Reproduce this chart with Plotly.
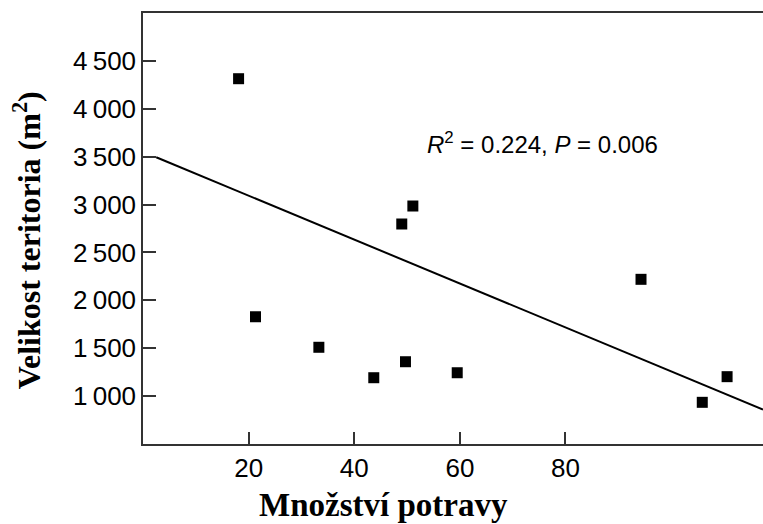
import plotly.graph_objects as go

# Data
food_amount = [18.1, 21.3, 33.3, 43.7, 49.0, 49.7, 51.1, 59.5, 94.3, 105.9, 110.6]
territory_size = [4315, 1828, 1509, 1191, 2797, 1358, 2985, 1243, 2219, 934, 1202]

fit_x = [2.5, 117.4]
fit_y = [3494, 859]

x_tickvals = [20, 40, 60, 80]
x_ticktext = ["20", "40", "60", "80"]
y_tickvals = [1000, 1500, 2000, 2500, 3000, 3500, 4000, 4500]
y_ticktext = ["1\u2009000", "1\u2009500", "2\u2009000", "2\u2009500",
              "3\u2009000", "3\u2009500", "4\u2009000", "4\u2009500"]

stat_text = "<i>R</i><sup>2</sup> = 0.224, <i>P</i> = 0.006"
x_title = "<b>Množství potravy</b>"
y_title = "<b>Velikost teritoria (m<sup>2</sup>)</b>"

fig = go.Figure()
fig.add_trace(go.Scatter(
    x=fit_x, y=fit_y, mode="lines",
    line=dict(color="black", width=2), showlegend=False, hoverinfo="skip"))
fig.add_trace(go.Scatter(
    x=food_amount, y=territory_size, mode="markers",
    marker=dict(symbol="square", size=11, color="black"), showlegend=False))

fig.add_annotation(x=75.6, y=3640, xref="x", yref="y", text=stat_text,
                   showarrow=False,
                   font=dict(family="Liberation Sans, Arial", size=24, color="black"))

serif = "Liberation Serif, Times New Roman"
fig.add_annotation(x=0.3887, y=-0.142, xref="paper", yref="paper", text=x_title,
                   showarrow=False, xanchor="center", yanchor="middle",
                   font=dict(family=serif, size=33, color="black"))
fig.add_annotation(x=-0.187, y=0.473, xref="paper", yref="paper", text=y_title,
                   showarrow=False, xanchor="center", yanchor="middle", textangle=-90,
                   font=dict(family=serif, size=32, color="black"))

fig.update_layout(
    width=763, height=524,
    margin=dict(l=143, r=0, t=13, b=80),
    paper_bgcolor="white", plot_bgcolor="white",
    font=dict(family="Liberation Sans, Arial", color="black"),
    xaxis=dict(
        range=[0, 117.4], showgrid=False, zeroline=False,
        showline=True, linecolor="#333333", linewidth=2, mirror=True,
        ticks="inside", ticklen=12, tickwidth=1.5, tickcolor="#333333",
        tickvals=x_tickvals, ticktext=x_ticktext,
        tickfont=dict(family="Liberation Sans, Arial", size=26, color="black"),
    ),
    yaxis=dict(
        range=[498.5, 5001.5], showgrid=False, zeroline=False,
        showline=True, linecolor="#333333", linewidth=1.5, mirror=False,
        ticks="inside", ticklen=13, tickwidth=1.5, tickcolor="#333333",
        tickvals=y_tickvals, ticktext=y_ticktext,
        tickfont=dict(family="Liberation Sans, Arial", size=26, color="black"),
    ),
)

fig.write_html("out.html")
